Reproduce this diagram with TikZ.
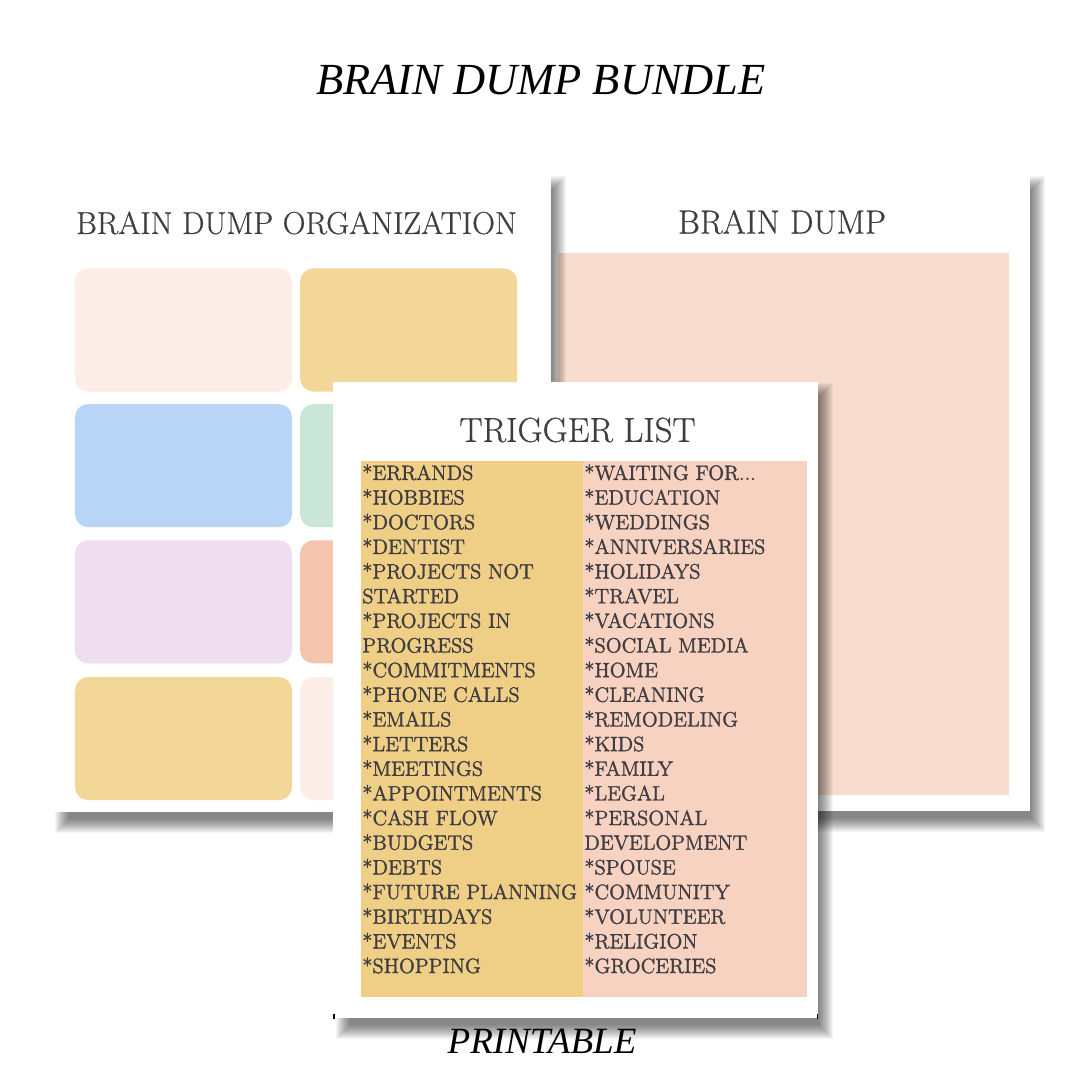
\documentclass[tikz,border=0pt]{standalone}
\usepackage{xcolor}
\usepackage{fontspec}
\usepackage{tikz}
\usetikzlibrary{positioning}

\setmainfont{Latin Modern Roman}[FakeBold=0.6]
\newfontfamily\titlefont{Liberation Serif}
\newfontfamily\listfont{Latin Modern Roman}[FakeBold=1.5]

\definecolor{inkgrey}{HTML}{3F3C42}
\definecolor{cardpale}{HTML}{FCEDE6}
\definecolor{cardgold}{HTML}{F2D798}
\definecolor{cardblue}{HTML}{B8D4F7}
\definecolor{cardgreen}{HTML}{C9E6D8}
\definecolor{cardlilac}{HTML}{EFDEEF}
\definecolor{cardcoral}{HTML}{F4C4AD}
\definecolor{panelpeach}{HTML}{F8DCCE}
\definecolor{colgold}{HTML}{EFCE85}
\definecolor{colpeach}{HTML}{F7D2C0}

% soft shadow: x1, y1, x2, y2 of the sheet
\newcommand{\softshadow}[4]{%
  \foreach \d in {-7,...,7} {
    \fill [black, opacity=0.04] (#1+10+\d,#2+8+\d) rectangle (#3+8-\d,#4+14-\d);
  }
}

\begin{document}
\begin{tikzpicture}[
        x=0.2mm, y=-0.2mm,
        sheet/.style={rectangle, fill=white, anchor=north west, inner sep=0pt},
        card/.style={rectangle, rounded corners=2.6mm, inner sep=0pt,
                     minimum width=43.4mm, minimum height=24.6mm},
        heading/.style={inner sep=0pt, text=inkgrey, font=\fontsize{18}{20}\selectfont},
        bigtitle/.style={inner sep=0pt, text=black, font=\fontsize{25.3}{30}\titlefont\itshape},
        listcol/.style={rectangle, anchor=north west, inner sep=0pt},
        listtext/.style={anchor=north west, inner sep=0pt, text=inkgrey, align=left,
                         font=\fontsize{11.8}{14.03}\listfont}
      ]
      \useasboundingbox (0,0) rectangle (1080,1080);
      \fill [white] (0,0) rectangle (1080,1080);

      % Titles
      \node (bundle) [bigtitle] at (541,80) {BRAIN DUMP BUNDLE};

      % Right sheet
      \softshadow{551}{175}{1030}{811}
      \node (dumpsheet) [sheet, minimum width=95.8mm, minimum height=127.2mm] at (551,175) {};
      \node (dumptitle) [heading, font=\fontsize{19}{22}\selectfont] at (782,222) {BRAIN DUMP};
      \node (dumppanel) [sheet, fill=panelpeach, minimum width=90.2mm, minimum height=108.4mm] at (558,253) {};

      % Left sheet
      \softshadow{52}{175}{551}{812}
      \node (orgsheet) [sheet, minimum width=99.8mm, minimum height=127.4mm] at (52,175) {};
      \node (orgtitle) [heading] at (296.5,223) {BRAIN DUMP ORGANIZATION};

      \node (errcard) [card, fill=cardpale] at (183.5,330) {};
      \node (goldcard) [card, fill=cardgold, right=1.5mm of errcard] {};
      \node (bluecard) [card, fill=cardblue, below=2.4mm of errcard] {};
      \node (greencard) [card, fill=cardgreen, right=1.5mm of bluecard] {};
      \node (lilaccard) [card, fill=cardlilac, below=2.5mm of bluecard] {};
      \node (coralcard) [card, fill=cardcoral, right=1.5mm of lilaccard] {};
      \node (lowcard) [card, fill=cardgold, below=2.6mm of lilaccard] {};
      \node (palecard) [card, fill=cardpale, right=1.5mm of lowcard] {};

      % Front sheet
      \softshadow{333}{382}{818}{1018}
      \node (listsheet) [sheet, minimum width=97mm, minimum height=127.2mm] at (333,382) {};
      \node (listtitle) [heading, font=\fontsize{19.7}{22}\selectfont] at (577.5,430) {TRIGGER LIST};
      \node (goldcol) [listcol, fill=colgold, minimum width=44.4mm, minimum height=107.2mm] at (361,461) {};
      \node (peachcol) [listcol, fill=colpeach, minimum width=44.8mm, minimum height=107.2mm] at (583,461) {};

      \node (leftlist) [listtext] at (362,464) {*ERRANDS\\*HOBBIES\\*DOCTORS\\*DENTIST\\*PROJECTS NOT\\STARTED\\*PROJECTS IN\\PROGRESS\\*COMMITMENTS\\*PHONE CALLS\\*EMAILS\\*LETTERS\\*MEETINGS\\*APPOINTMENTS\\*CASH FLOW\\*BUDGETS\\*DEBTS\\*FUTURE PLANNING\\*BIRTHDAYS\\*EVENTS\\*SHOPPING};
      \node (rightlist) [listtext] at (584,464) {*WAITING FOR...\\*EDUCATION\\*WEDDINGS\\*ANNIVERSARIES\\*HOLIDAYS\\*TRAVEL\\*VACATIONS\\*SOCIAL MEDIA\\*HOME\\*CLEANING\\*REMODELING\\*KIDS\\*FAMILY\\*LEGAL\\*PERSONAL\\DEVELOPMENT\\*SPOUSE\\*COMMUNITY\\*VOLUNTEER\\*RELIGION\\*GROCERIES};

      % corner ticks
      \draw [black, line width=0.3mm] ([xshift=0.2mm]listsheet.south west) -- ++(0,-5);
      \draw [black, line width=0.3mm] ([xshift=-0.2mm]listsheet.south east) -- ++(0,-5);

      \node (printable) [bigtitle, font=\fontsize{21.1}{24}\titlefont\itshape] at (542,1041) {PRINTABLE};

    \end{tikzpicture}
\end{document}
